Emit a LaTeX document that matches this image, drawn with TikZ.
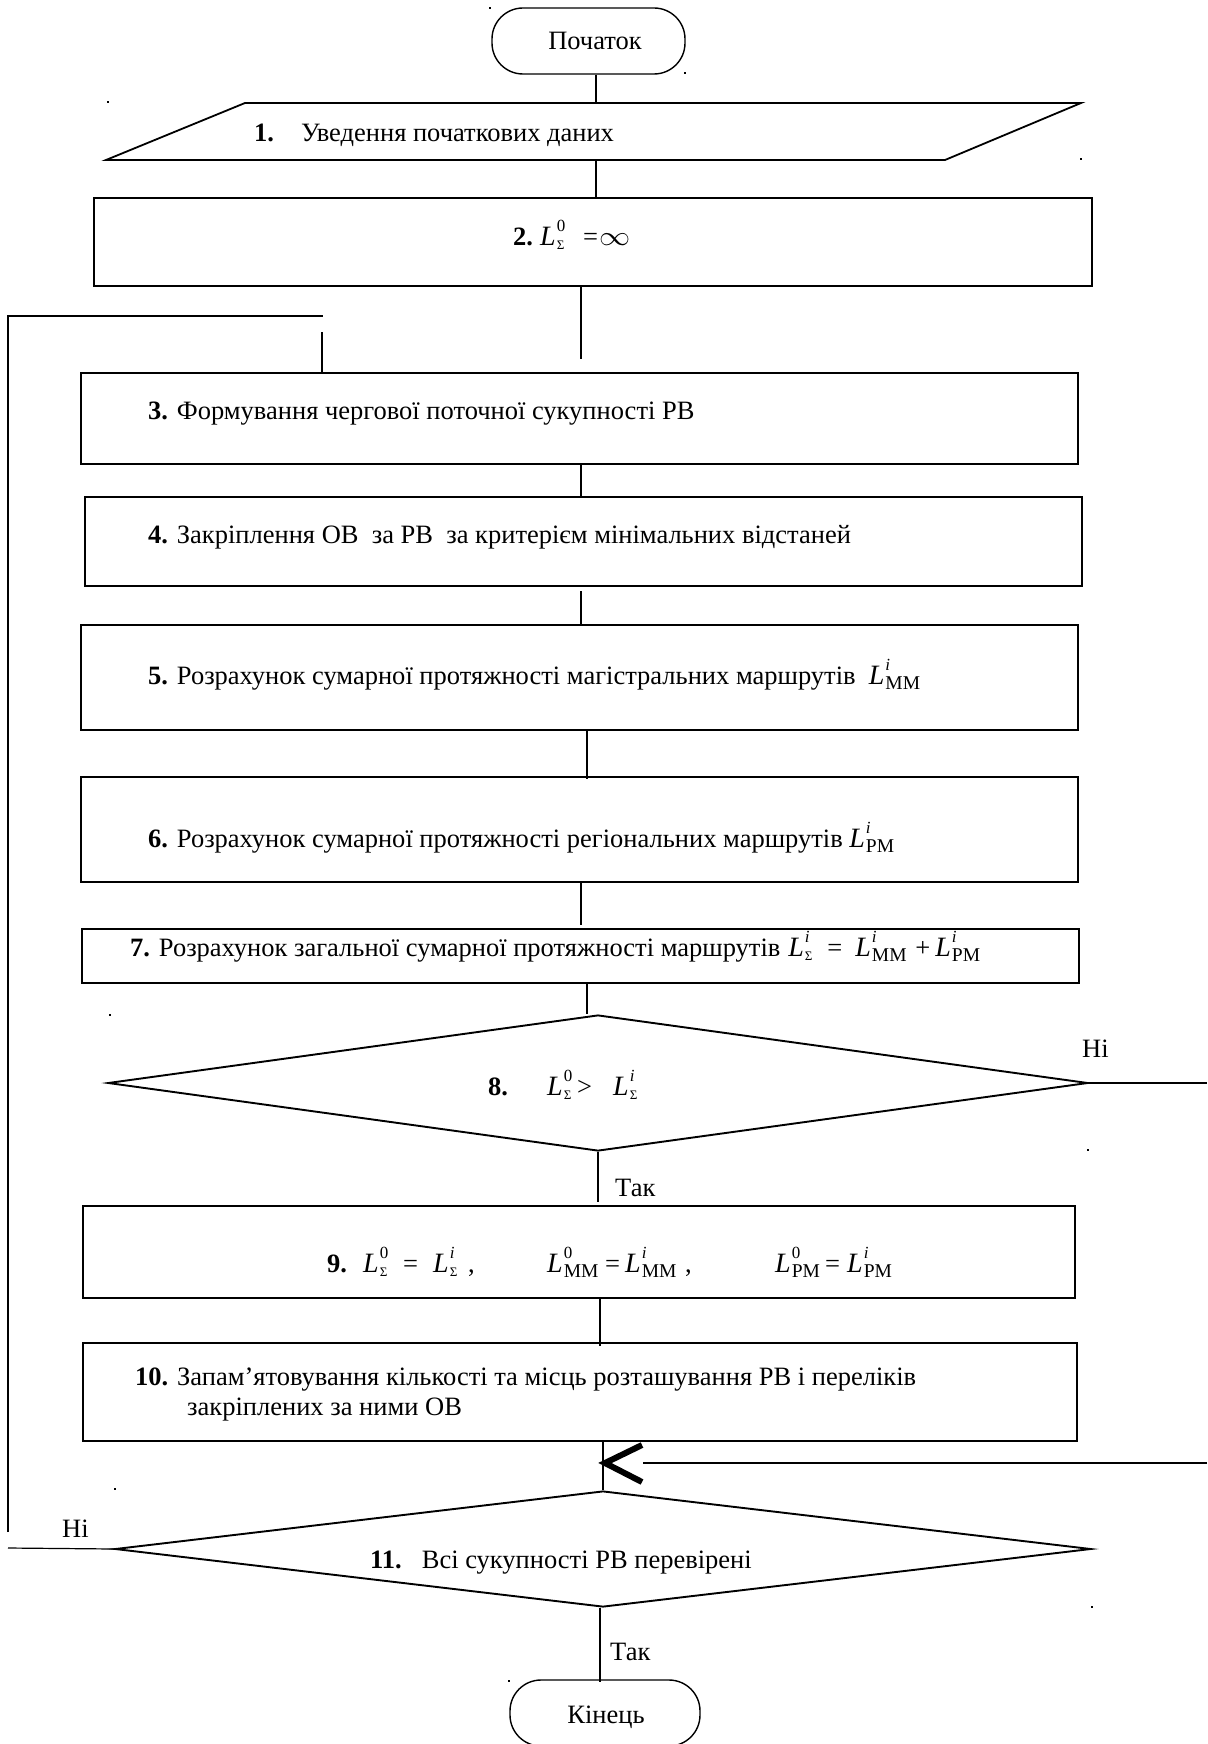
\documentclass[tikz,border=0pt]{standalone}
\usepackage{fontspec}
\setmainfont{Liberation Serif}
\usetikzlibrary{shapes.geometric,calc}

% L with a superscript and a subscript, set in the text font
\newcommand{\Lfont}{\fontsize{28}{28}\selectfont\itshape}
\newcommand{\supfont}{\fontsize{17}{17}\selectfont}
\newcommand{\Ls}[1]{{\Lfont L}\kern1pt\makebox[0pt][l]{\raisebox{14pt}{\supfont #1}}\raisebox{-4pt}{\fontsize{13}{13}\selectfont Σ}}
\newcommand{\Lm}[2]{{\Lfont L}\kern1pt\makebox[0pt][l]{\raisebox{14pt}{\supfont #1}}\raisebox{-5pt}{\fontsize{19.5}{19.5}\selectfont #2}}
\newcommand{\ii}{\itshape i}
\newcommand{\at}[2]{\makebox[#1pt][l]{#2}}

\begin{document}
\begin{tikzpicture}[x=1pt,y=-1pt,
  font=\fontsize{26.5}{32}\selectfont,
  box/.style={draw, rectangle, line width=1.8pt, inner sep=0pt},
  term/.style={draw, rectangle, rounded corners=31pt, line width=1.4pt, inner sep=0pt},
  dia/.style={draw, diamond, line width=1.9pt, inner sep=0pt},
  conn/.style={line width=1.2pt},
  chev/.style={line width=6pt, miter limit=20},
  txt/.style={anchor=base west, inner sep=0pt},
  txtc/.style={anchor=base, inner sep=0pt},
  dotmark/.style={fill=black, inner sep=0pt, minimum size=2.4pt}]

\useasboundingbox (0,0) rectangle (1207,1744);

% ---------- blocks ----------
\node[term, minimum width=193pt, minimum height=66pt] (start) at (588.5,41) {};
\node[txtc] (tstart) at (595,50) {Початок};

% input block (parallelogram)
\coordinate (pTL) at (245,103);
\coordinate (pTR) at (1081,103);
\coordinate (pBR) at (945,160);
\coordinate (pBL) at (106,160);
\draw[box] (pTL) -- (pTR) -- (pBR) -- (pBL) -- cycle;
\coordinate (in1n) at (596,103);
\coordinate (in1s) at (596,160);
\node[txt] (t1) at (254,142) {\textbf{1.}\hspace{27pt}Уведення початкових даних};

\node[box, minimum width=998pt, minimum height=88pt] (b2) at (593,242) {};
\node[txt] (t2) at (513,246) {\at{27}{\textbf{2.}}\at{43}{\Ls{0}}\at{16}{=}\scalebox{1.25}[1.1]{$\infty$}};

\node[box, minimum width=997pt, minimum height=91pt] (b3) at (579.5,418.5) {};
\node[txt] (t3) at (148,419) {\textbf{3.} Формування чергової поточної сукупності РВ};

\node[box, minimum width=997pt, minimum height=89pt] (b4) at (583.5,541.5) {};
\node[txt] (t4) at (148,543) {\textbf{4.} Закріплення ОВ\ \ за РВ\ \ за критерієм мінімальних відстаней};

\node[box, minimum width=997pt, minimum height=105pt] (b5) at (579.5,677.5) {};
\node[txt] (t5) at (148,684) {\textbf{5.} Розрахунок сумарної протяжності магістральних маршрутів\ \ \Lm{\ii}{ММ}};

\node[box, minimum width=997pt, minimum height=105pt] (b6) at (579.5,829.5) {};
\node[txt] (t6) at (148,847) {\textbf{6.} Розрахунок сумарної протяжності регіональних маршрутів \Lm{\ii}{РМ}};

\node[box, minimum width=997pt, minimum height=54pt] (b7) at (580.5,956) {};
\node[txt] (t7) at (130,956) {\textbf{7.} Розрахунок загальної сумарної протяжності маршрутів\hspace{8pt}\at{39}{\Ls{\ii}}\at{28}{=}\at{60}{\Lm{\ii}{ММ}}\at{20}{+}\Lm{\ii}{РМ}};

\node[dia, minimum width=980pt, minimum height=136pt] (d8) at (598,1083) {};
\node[txt] (t8) at (488,1095) {\at{59}{\textbf{8.}}\at{30}{\Ls{0}}\at{36}{>}\Ls{\ii}};

\node[box, minimum width=992pt, minimum height=92pt] (b9) at (579,1252) {};
\node[txt] (t9) at (327,1272) {\at{36}{\textbf{9.}}\at{40}{\Ls{0}}\at{30}{=}\at{35}{\Ls{\ii}}\at{79}{,}\at{58}{\Lm{0}{ММ}}\at{20}{=}\at{60}{\Lm{\ii}{ММ}}\at{90}{,}\at{50}{\Lm{0}{РМ}}\at{22}{=}\Lm{\ii}{РМ}};

\node[box, minimum width=994pt, minimum height=98pt] (b10) at (580,1392) {};
\node[txt] (t10a) at (135,1385) {\textbf{10.} Запам’ятовування кількості та місць розташування РВ і переліків};
\node[txt] (t10b) at (187,1415) {закріплених за ними ОВ};

\node[dia, minimum width=976pt, minimum height=116pt] (d11) at (603,1549) {};
\node[txt] (t11) at (370,1568) {\textbf{11.}\hspace{20pt}Всі сукупності РВ перевірені};

\node[term, minimum width=190pt, minimum height=66pt] (stop) at (605,1713) {};
\node[txtc] (tstop) at (606,1723) {Кінець};

% ---------- connectors ----------
\draw[conn] (start.south -| in1n) -- (in1n);
\draw[conn] (in1s) -- (b2.north -| in1s);

\coordinate (c2e) at (581,359);
\draw[conn] (b2.south -| c2e) -- (c2e);

\coordinate (c3e) at (581,496);
\draw[conn] (b3.south -| c3e) -- (c3e);
\coordinate (c4e) at (581,591);
\draw[conn] (c4e) -- (b5.north -| c4e);
\coordinate (c5e) at (587,779);
\draw[conn] (b5.south -| c5e) -- (c5e);
\coordinate (c6e) at (581,925);
\draw[conn] (b6.south -| c6e) -- (c6e);
\coordinate (c7e) at (587,1014);
\draw[conn] (b7.south -| c7e) -- (c7e);

\coordinate (c8e) at (598,1202);
\draw[conn] (d8.south) -- (c8e);
\node[txt] (yes8) at (615,1196) {Так};

\coordinate (r8) at (1207,1083);
\draw[conn] (d8.east) -- (r8);
\node[txt] (no8) at (1082,1057) {Ні};

\coordinate (c9e) at (600,1346);
\draw[conn] (b9.south -| c9e) -- (c9e);

\draw[conn] (b10.south -| d11.north) -- (d11.north);

% return line from the right with its open arrowhead
\coordinate (tip) at (605,1463);
\coordinate (rin) at (1207,1463);
\draw[conn] (rin) -- ([xshift=38pt]tip);
\draw[chev] ([shift={(37,-18)}]tip) -- (tip) -- ([shift={(37,19)}]tip);

\coordinate (c11e) at (600,1682);
\draw[conn] (d11.south -| c11e) -- (c11e);
\node[txt] (yes11) at (610,1660) {Так};

% loop back to block 3
\coordinate (l2) at (8,1548);
\draw[conn] (d11.west) -- (l2);
\node[txt] (no11) at (62,1537) {Ні};
\coordinate (l3) at (8,1532);
\coordinate (l4) at (8,316);
\coordinate (l5) at (323,316);
\draw[conn] (l3) -- (l4) -- (l5);
\coordinate (l6) at (322,332);
\draw[conn] (l6) -- (b3.north -| l6);

% small anchor marks
\foreach \p [count=\k] in {(490,8),(685,73),(108,102),(1081,159),(110,1015),(1088,1150),(115,1489),(1092,1607),(509,1681)}
  \node[dotmark] (m\k) at \p {};

\end{tikzpicture}
\end{document}
